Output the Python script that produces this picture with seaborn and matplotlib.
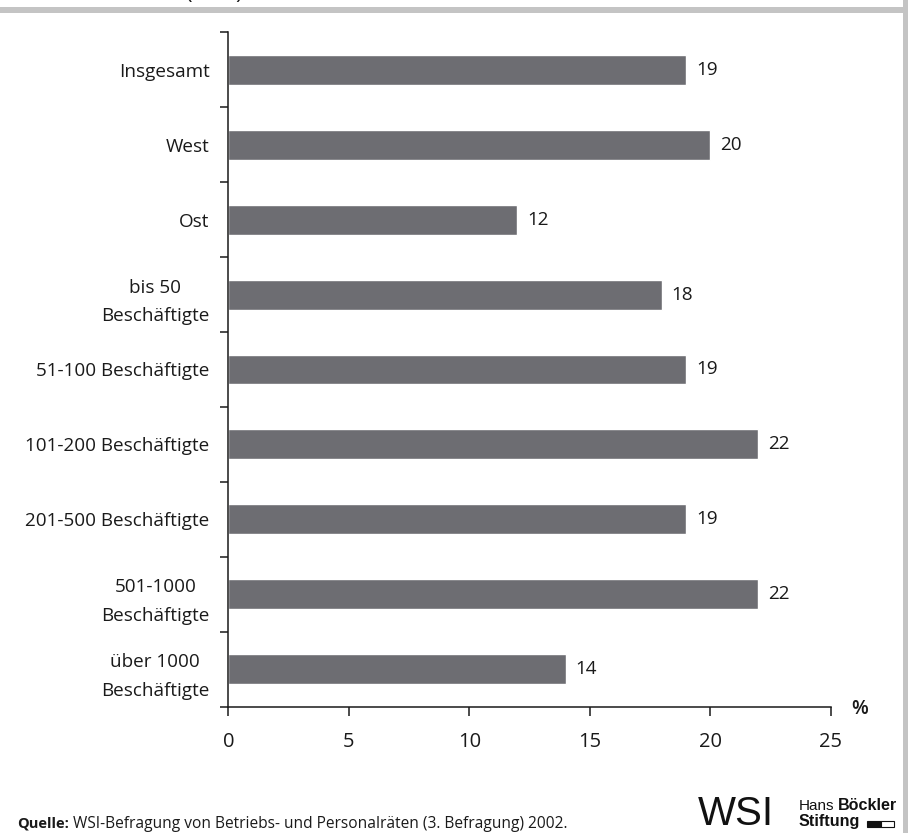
import matplotlib
matplotlib.use("Agg")
import matplotlib.pyplot as plt
from matplotlib.patches import Rectangle
import seaborn as sns
import pandas as pd

# Data
categories = [
    "Insgesamt",
    "West",
    "Ost",
    "bis 50\nBeschäftigte",
    "51-100 Beschäftigte",
    "101-200 Beschäftigte",
    "201-500 Beschäftigte",
    "501-1000\nBeschäftigte",
    "über 1000\nBeschäftigte",
]
values = [19, 20, 12, 18, 19, 22, 19, 22, 14]
x_ticks = [0, 5, 10, 15, 20, 25]
unit_label = "%"
source_bold = "Quelle:"
source_text = "WSI-Befragung von Betriebs- und Personalräten (3. Befragung) 2002."

BAR_COLOR = "#6d6d72"
BAND_COLOR = "#c4c4c4"
INK = "#1a1a1a"

sns.set_theme(style="white")
plt.rcParams["font.family"] = ["Open Sans", "DejaVu Sans"]
plt.rcParams["text.color"] = INK

W, H = 914, 833
fig = plt.figure(figsize=(W / 100, H / 100), dpi=100)
fig.patch.set_facecolor("white")

# axes box in pixel units
x0, x1 = 228.3, 830.7
y_top, y_bot = 32.3, 706.7
ax = fig.add_axes([x0 / W, 1 - y_bot / H, (x1 - x0) / W, (y_bot - y_top) / H])

df = pd.DataFrame({"Kategorie": categories, "Wert": values})
sns.barplot(data=df, y="Kategorie", x="Wert", orient="h", color=BAR_COLOR,
            saturation=1, width=0.4, ax=ax)

ax.set_xlim(0, 25)
ax.set_ylim(len(categories) - 0.5, -0.5)
ax.set_xlabel("")
ax.set_ylabel("")

# x axis
ax.set_xticks(x_ticks)
ax.set_xticklabels([str(t) for t in x_ticks], fontsize=14.5)
ax.tick_params(axis="x", direction="out", length=6.5, width=1.1, color=INK,
               pad=12, labelcolor=INK, bottom=True)

# y axis: labels at bar centres, tick marks at category boundaries
ax.set_yticks(range(len(categories)))
ax.set_yticklabels(categories, fontsize=13.6, linespacing=1.75)
for lab in ax.get_yticklabels():
    lab.set_multialignment("center")
ax.tick_params(axis="y", which="major", length=0, pad=13.5, labelcolor=INK)
ax.set_yticks([i - 0.5 for i in range(len(categories) + 1)], minor=True)
ax.tick_params(axis="y", which="minor", direction="out", length=6, width=1.1,
               color=INK, left=True)

for side in ["top", "right"]:
    ax.spines[side].set_visible(False)
for side in ["left", "bottom"]:
    ax.spines[side].set_color(INK)
    ax.spines[side].set_linewidth(1.1)
ax.grid(False)

# value labels
ax.bar_label(ax.containers[0], labels=[str(v) for v in values], padding=7,
             fontsize=13.6, color=INK)

# unit label
fig.text(860 / W, 1 - 714 / H, unit_label, ha="center", va="baseline",
         fontsize=14, fontweight="semibold")

# frame bands
fig.add_artist(Rectangle((0, 1 - 12.7 / H), 903 / W, 5.4 / H,
                         transform=fig.transFigure, color=BAND_COLOR, lw=0))
fig.add_artist(Rectangle((903 / W, 0), 5 / W, 1,
                         transform=fig.transFigure, color=BAND_COLOR, lw=0))
# heading line running off the top edge
fig.text(186 / W, 1 + 1.5 / H, "(in %)", ha="left", va="baseline", fontsize=16)

# source line
fig.text(16.7 / W, 1 - 828 / H, source_bold, ha="left", va="baseline",
         fontsize=10.5, fontweight="bold")
fig.text(72.7 / W, 1 - 828 / H, source_text, ha="left", va="baseline",
         fontsize=11.2)

# logos
fig.text(774 / W, 1 - 825 / H, "WSI", ha="right", va="baseline", fontsize=29,
         family=["Liberation Sans", "DejaVu Sans"], color="#111111")
fig.text(799 / W, 1 - 810 / H, "Hans", ha="left", va="baseline", fontsize=11,
         family=["Liberation Sans", "DejaVu Sans"], color="#111111")
fig.text(897 / W, 1 - 810 / H, "Böckler", ha="right", va="baseline", fontsize=11.6,
         fontweight="bold", family=["Liberation Sans", "DejaVu Sans"], color="#111111")
fig.text(799 / W, 1 - 826 / H, "Stiftung", ha="left", va="baseline", fontsize=11.6,
         fontweight="bold", family=["Liberation Sans", "DejaVu Sans"], color="#111111")
fig.add_artist(Rectangle((867 / W, 1 - 827 / H), 14 / W, 6 / H,
                         transform=fig.transFigure, facecolor="#111111",
                         edgecolor="#111111", lw=0.8))
fig.add_artist(Rectangle((881 / W, 1 - 827 / H), 13 / W, 6 / H,
                         transform=fig.transFigure, facecolor="white",
                         edgecolor="#111111", lw=0.8))

fig.savefig("out.png", dpi=100)
